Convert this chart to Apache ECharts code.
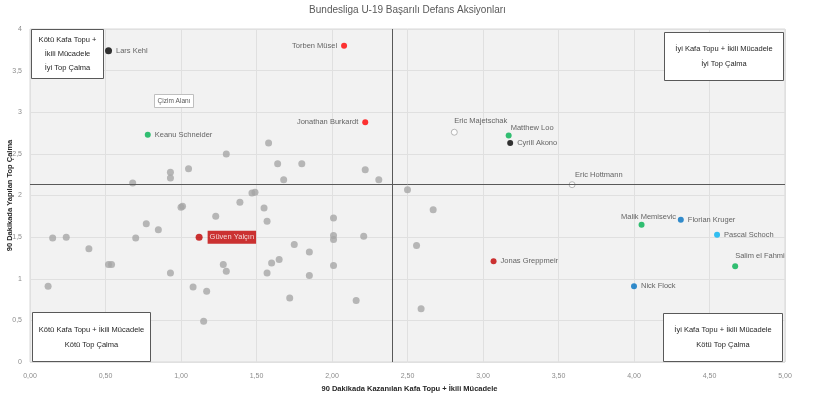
<!DOCTYPE html>
<html lang="tr">
<head>
    <meta charset="UTF-8">
    <title>Bundesliga U-19 Başarılı Defans Aksiyonları</title>
    <script src="https://cdn.jsdelivr.net/npm/echarts@6/dist/echarts.min.js"></script>
    <style>
        html, body { margin: 0; padding: 0; background: #fff; }
        #chartmain { width: 815px; height: 399px; }
    </style>
</head>
<body>
<div id="chartmain"></div>
<script>
    // diğer oyuncular (gri noktalar): [kafa topu + ikili mücadele, top çalma]
    var grayPoints = [
        [1.58, 2.63], [1.30, 2.50], [1.64, 2.38], [1.80, 2.38], [1.05, 2.32],
        [0.93, 2.28], [0.93, 2.21], [1.68, 2.19], [2.22, 2.31], [2.31, 2.19],
        [0.68, 2.15], [2.50, 2.07], [1.47, 2.03], [1.49, 2.04], [1.39, 1.92],
        [1.00, 1.86], [1.01, 1.87], [1.23, 1.75], [1.55, 1.85], [1.57, 1.69],
        [2.01, 1.73], [0.77, 1.66], [0.85, 1.59], [0.15, 1.49], [0.24, 1.50],
        [0.70, 1.49], [2.01, 1.52], [2.01, 1.47], [2.21, 1.51], [0.39, 1.36],
        [1.75, 1.41], [1.85, 1.32], [0.52, 1.17], [0.54, 1.17], [1.28, 1.17],
        [1.30, 1.09], [0.93, 1.07], [1.65, 1.23], [1.60, 1.19], [1.57, 1.07],
        [2.01, 1.16], [1.85, 1.04], [0.12, 0.91], [1.08, 0.90], [1.17, 0.85],
        [1.72, 0.77], [2.16, 0.74], [1.15, 0.49], [2.67, 1.83], [2.56, 1.40],
        [2.59, 0.64]
    ];

    // öne çıkan oyuncular
    var players = ['Lars Kehl', 'Torben Müsel', 'Jonathan Burkardt', 'Keanu Schneider',
        'Güven Yalçın', 'Eric Majetschak', 'Matthew Loo', 'Cyrill Akono', 'Eric Hottmann',
        'Malik Memisevic', 'Florian Kruger', 'Pascal Schoch', 'Salim el Fahmi',
        'Jonas Greppmeir', 'Nick Flock'];
    var playerX = [0.52, 2.08, 2.22, 0.78, 1.12, 2.81, 3.17, 3.18, 3.59, 4.05, 4.31, 4.55, 4.67, 3.07, 4.00];
    var playerY = [3.74, 3.80, 2.88, 2.73, 1.50, 2.76, 2.72, 2.63, 2.13, 1.65, 1.71, 1.53, 1.15, 1.21, 0.91];

    // ayrım çizgileri
    var splitX = 2.40;
    var splitY = 2.14;

    var xTicks = ['0,00', '0,50', '1,00', '1,50', '2,00', '2,50', '3,00', '3,50', '4,00', '4,50', '5,00'];
    var yTicks = ['0', '0,5', '1', '1,5', '2', '2,5', '3', '3,5', '4'];

    var fontNarrow = "'Liberation Sans Narrow', 'Liberation Sans', sans-serif";

    // görünüm ayarları (oyuncu bazında)
    var look = {
        'Lars Kehl': {c: '#000000', s: 7, pos: 'right'},
        'Torben Müsel': {c: '#ff0000', s: 6, pos: 'left'},
        'Jonathan Burkardt': {c: '#ff0000', s: 6, pos: 'left'},
        'Keanu Schneider': {c: '#00b050', s: 6, pos: 'right'},
        'Güven Yalçın': {c: '#c00000', s: 7, pos: 'right', box: true},
        'Eric Majetschak': {c: 'hollow', s: 6, pos: 'top', al: 'left', d: 4},
        'Matthew Loo': {c: '#00b050', s: 6, pos: 'top', al: 'left', off: [2, 0], d: 1},
        'Cyrill Akono': {c: '#000000', s: 6, pos: 'right'},
        'Eric Hottmann': {c: 'hollow', s: 6, pos: 'top', al: 'left', off: [3, 0], d: 2},
        'Malik Memisevic': {c: '#00b050', s: 6, pos: 'top', off: [7, 0], d: 1},
        'Florian Kruger': {c: '#0070c0', s: 6, pos: 'right'},
        'Pascal Schoch': {c: '#00b0f0', s: 6, pos: 'right'},
        'Salim el Fahmi': {c: '#00b050', s: 6, pos: 'top', al: 'left', d: 3},
        'Jonas Greppmeir': {c: '#c00000', s: 6, pos: 'right'},
        'Nick Flock': {c: '#0070c0', s: 6, pos: 'right'}
    };

    var playerData = players.map(function (n, i) {
        var l = look[n];
        var item = {
            name: n,
            value: [playerX[i], playerY[i]],
            symbolSize: l.s,
            itemStyle: l.c === 'hollow'
                ? {color: '#ffffff', borderColor: '#a6a6a6', borderWidth: 1}
                : {color: l.c},
            label: {position: l.pos, offset: l.off || [0, 0], distance: l.d != null ? l.d : 4}
        };
        if (l.al) item.label.align = l.al;
        if (l.box) {
            item.label.backgroundColor = '#c00000';
            item.label.color = '#ffffff';
            item.label.padding = [3, 2, 2, 2];
            item.label.distance = 5;
        }
        return item;
    });

    var option = {
        animation: false,
        backgroundColor: '#ffffff',
        title: {
            text: 'Bundesliga U-19 Başarılı Defans Aksiyonları',
            left: 'center',
            top: 0,
            textStyle: {fontSize: 10, fontWeight: 'normal', color: '#595959', fontFamily: fontNarrow}
        },
        grid: {
            left: 30, right: 30, top: 29, bottom: 37,
            show: true,
            backgroundColor: '#f2f2f2',
            borderColor: '#d9d9d9',
            borderWidth: 1,
            outerBoundsMode: 'none'
        },
        xAxis: {
            type: 'value', min: 0, max: 5, interval: 0.5,
            name: '90 Dakikada Kazanılan Kafa Topu + İkili Mücadele',
            nameLocation: 'middle', nameGap: 23, nameMoveOverlap: false,
            nameTextStyle: {fontSize: 7.5, fontWeight: 'bold', color: '#262626', padding: [0, 0, 0, 4]},
            axisLine: {show: false}, axisTick: {show: false},
            axisLabel: {
                fontSize: 7, color: '#8c8c8c', margin: 11, fontFamily: fontNarrow,
                formatter: function (v) { return xTicks[Math.round(v / 0.5)]; }
            },
            splitLine: {lineStyle: {color: '#e0e0e0', width: 1}}
        },
        yAxis: {
            type: 'value', min: 0, max: 4, interval: 0.5,
            name: '90 Dakikada Yapılan Top Çalma',
            nameLocation: 'middle', nameGap: 16, nameMoveOverlap: false,
            nameTextStyle: {fontSize: 7.5, fontWeight: 'bold', color: '#262626'},
            axisLine: {show: false}, axisTick: {show: false},
            axisLabel: {
                fontSize: 7, color: '#8c8c8c', margin: 8, fontFamily: fontNarrow,
                formatter: function (v) { return yTicks[Math.round(v / 0.5)]; }
            },
            splitLine: {lineStyle: {color: '#e0e0e0', width: 1}}
        },
        series: [
            {
                name: 'Diğer',
                type: 'scatter',
                data: grayPoints,
                symbolSize: 7,
                itemStyle: {color: '#a6a6a6'},
                markLine: {
                    silent: true,
                    symbol: 'none',
                    label: {show: false},
                    lineStyle: {color: '#595959', width: 1, type: 'solid'},
                    data: [{xAxis: splitX}, {yAxis: splitY}]
                },
                z: 2
            },
            {
                name: 'Oyuncular',
                type: 'scatter',
                data: playerData,
                label: {
                    show: true,
                    formatter: '{b}',
                    fontSize: 7.5,
                    color: '#404040',
                    fontFamily: fontNarrow
                },
                z: 3
            }
        ],
        graphic: [
            quadBox(31, 29, 72, 49, 'Kötü Kafa Topu +\nİkili Mücadele\nİyi Top Çalma', 14),
            quadBox(664, 32, 119, 48, 'İyi Kafa Topu + İkili Mücadele\nİyi Top Çalma', 15),
            quadBox(32, 312, 118, 49, 'Kötü Kafa Topu + İkili Mücadele\nKötü Top Çalma', 15),
            quadBox(663, 313, 119, 48, 'İyi Kafa Topu + İkili Mücadele\nKötü Top Çalma', 15),
            {
                type: 'group', left: 154, top: 94,
                children: [
                    {type: 'rect', z: 100, shape: {x: 0, y: 0, width: 39, height: 13},
                        style: {fill: '#ffffff', stroke: '#bfbfbf', lineWidth: 1}},
                    {type: 'text', z: 101, x: 19.5, y: 7,
                        style: {text: 'Çizim Alanı', fontSize: 6.5, fill: '#595959', align: 'center',
                            verticalAlign: 'middle', fontFamily: fontNarrow}}
                ]
            }
        ]
    };

    function quadBox(x, y, w, h, txt, lh) {
        return {
            type: 'group', left: x, top: y,
            children: [
                {type: 'rect', z: 100, shape: {x: 0, y: 0, width: w, height: h},
                    style: {fill: '#ffffff', stroke: '#595959', lineWidth: 1}},
                {type: 'text', z: 101, x: w / 2, y: h / 2,
                    style: {text: txt, fontSize: 7.5, lineHeight: lh, fill: '#262626', align: 'center',
                        verticalAlign: 'middle', fontFamily: fontNarrow}}
            ]
        };
    }

    var myChart = echarts.init(document.getElementById('chartmain'), null, {renderer: 'canvas'});
    myChart.setOption(option);
</script>
</body>
</html>
